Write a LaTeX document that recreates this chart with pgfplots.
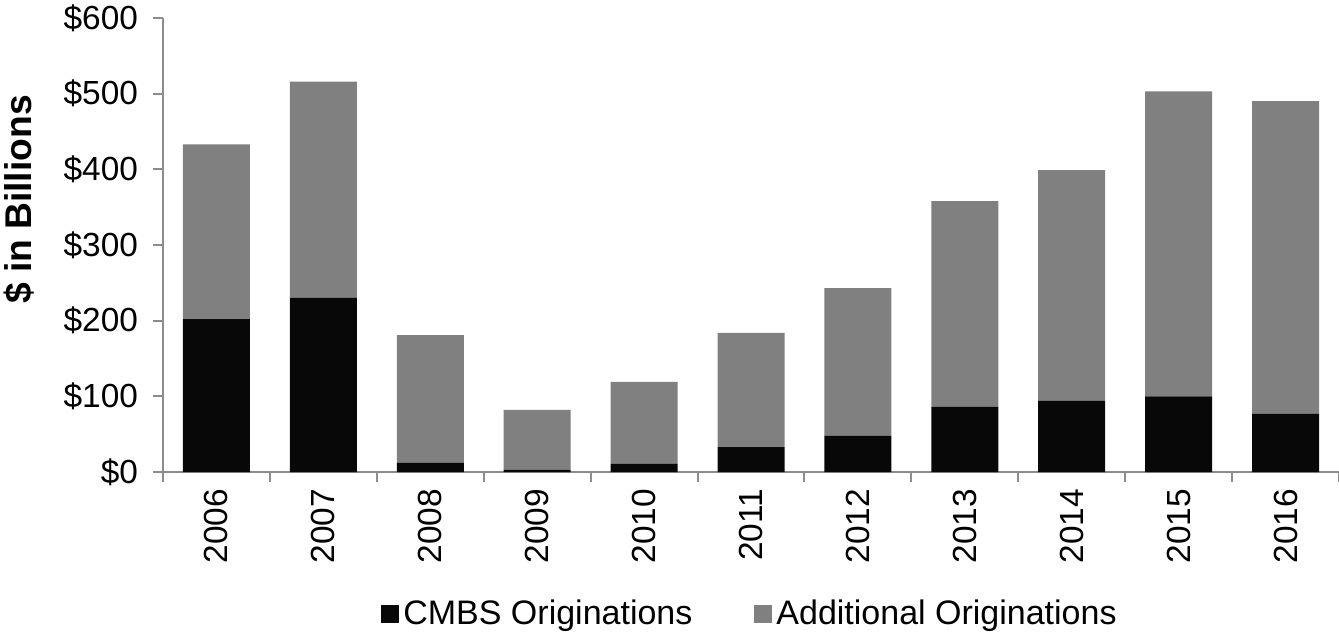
\documentclass[border=0pt]{standalone}
\usepackage{pgfplots}
\pgfplotsset{compat=1.18}
\usepackage{fontspec}
\setmainfont{Liberation Sans}
\definecolor{cmbs}{HTML}{080808}
\definecolor{addl}{HTML}{808080}
\definecolor{axgray}{HTML}{8C8C8C}
\begin{document}
\begin{tikzpicture}
\begin{axis}[
  scale only axis,
  width=588pt, height=227pt,
  ybar stacked, bar width=33.5pt,
  xmin=-0.5, xmax=10.5,
  ymin=0, ymax=600,
  axis x line=bottom, axis y line=left,
  axis line style={-, draw=axgray, line width=1pt},
  xtick={0,...,10},
  xticklabels={2006,2007,2008,2009,2010,2011,2012,2013,2014,2015,2016},
  minor xtick={-0.5,0.5,...,10.5},
  major x tick style={draw=none},
  minor tick length=5pt,
  minor x tick style={draw=axgray, line width=1pt},
  ytick={0,100,...,600},
  yticklabels={\$0,\$100,\$200,\$300,\$400,\$500,\$600},
  y tick style={draw=axgray, line width=1pt},
  major tick length=5pt,
  tick align=outside,
  /pgf/number format/assume math mode=true,
  xticklabel style={rotate=90, anchor=east, font=\fontsize{16.7pt}{20pt}\selectfont},
  yticklabel style={font=\fontsize{16.7pt}{20pt}\selectfont, xshift=-4pt},
  ylabel={\$ in Billions},
  ylabel style={font=\bfseries\fontsize{18.6pt}{22pt}\selectfont, at={(axis description cs:0,0.6)}, anchor=center, yshift=72pt},
  legend style={draw=none, at={(rel axis cs:0.5,0)}, anchor=center, yshift=-71pt,
    font=\fontsize{17pt}{20pt}\selectfont, legend columns=2,
    /tikz/every even column/.append style={column sep=29pt}},
  legend image code/.code={\fill[#1] (0pt,-4.5pt) rectangle (9pt,4.5pt);},
  clip=false,
]
\addplot[fill=cmbs, draw=none] coordinates {(0,202) (1,230) (2,12) (3,3) (4,11) (5,33) (6,48) (7,86) (8,94) (9,100) (10,77)};
\addlegendentry{CMBS Originations}
\addplot[fill=addl, draw=none] coordinates {(0,231) (1,286) (2,169) (3,79) (4,108) (5,151) (6,195) (7,272) (8,305) (9,403) (10,413)};
\addlegendentry{Additional Originations}
\coordinate (O) at (rel axis cs:0,0);
\end{axis}
\pgfresetboundingbox
\path (O) ++(-81.5pt,-83pt) rectangle ++(669.5pt,319pt);
\end{tikzpicture}
\end{document}
